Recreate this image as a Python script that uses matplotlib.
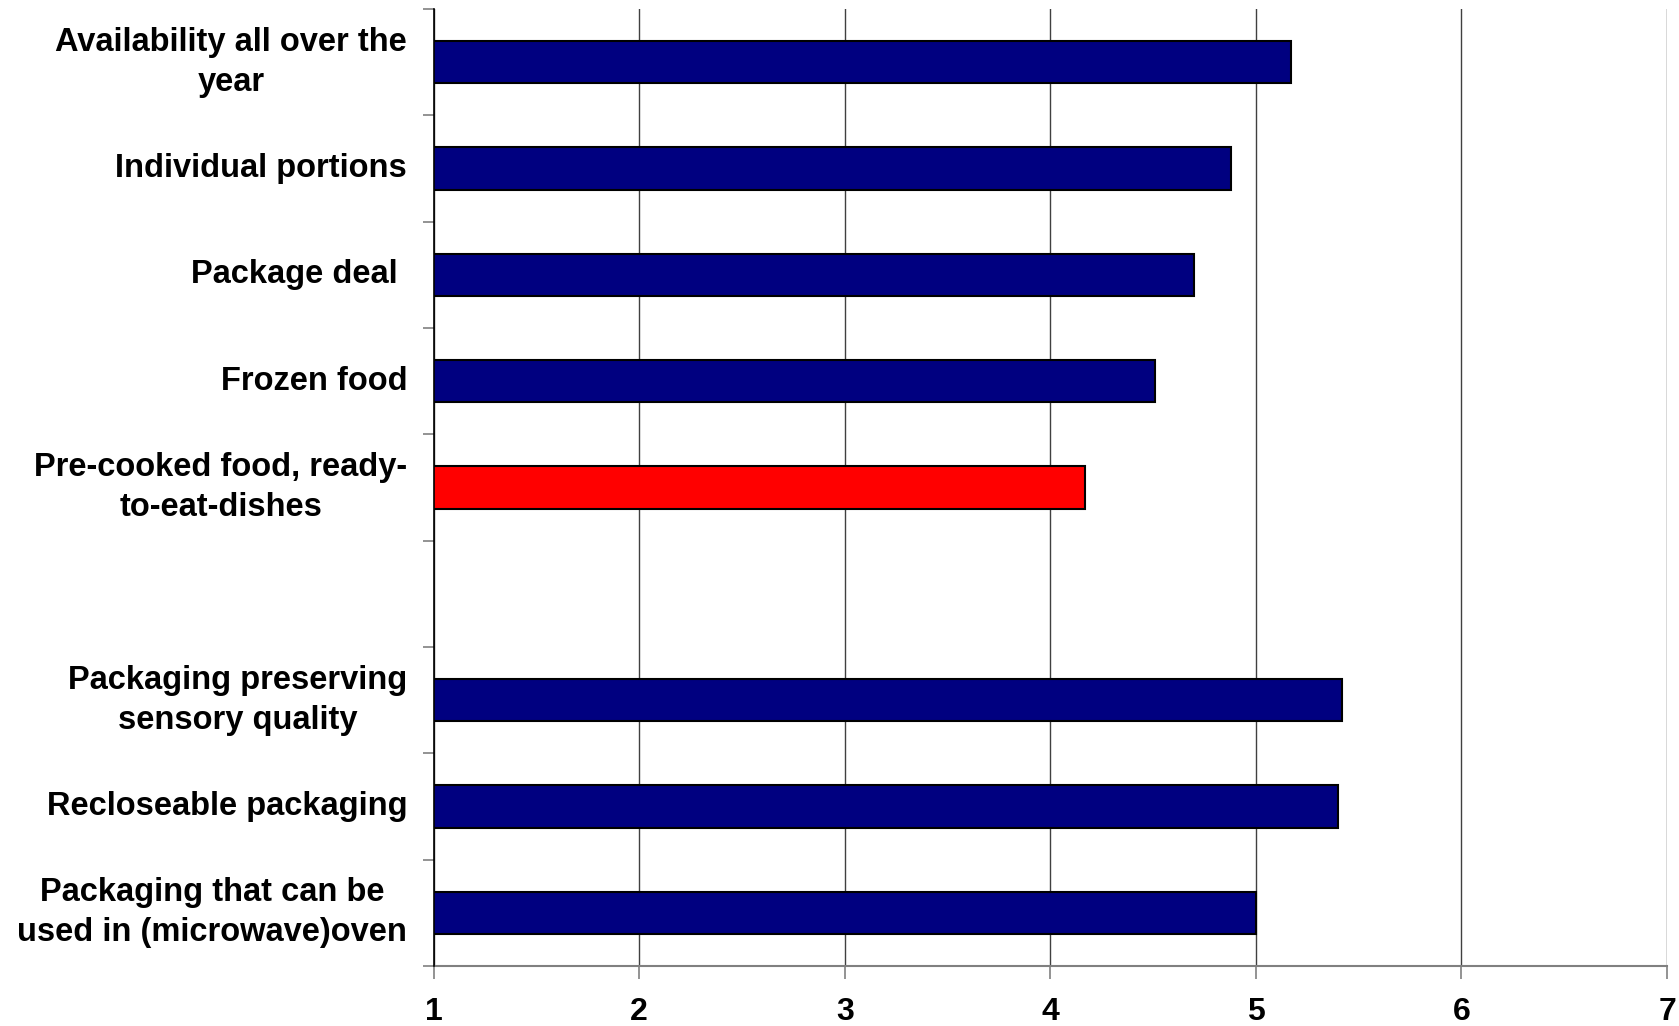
import matplotlib
matplotlib.use("Agg")
import matplotlib.pyplot as plt
import numpy as np

plt.rcParams['font.family'] = ['Liberation Sans', 'DejaVu Sans']

categories = [
    "Availability all over the\nyear",
    "Individual portions",
    "Package deal ",
    "Frozen food",
    "Pre-cooked food, ready-\nto-eat-dishes",
    "",
    "Packaging preserving\nsensory quality",
    "Recloseable packaging",
    "Packaging that can be\nused in (microwave)oven",
]
values = [5.17, 4.88, 4.70, 4.51, 4.17, None, 5.42, 5.40, 5.00]
colors = ["#000080", "#000080", "#000080", "#000080", "#FF0000", None,
          "#000080", "#000080", "#000080"]
xticks = [1, 2, 3, 4, 5, 6, 7]

fig = plt.figure(figsize=(16.79, 10.26), dpi=100)
ax = fig.add_axes([0.2582, 0.0585, 0.9929 - 0.2582, 0.9912 - 0.0585])

pos = np.arange(len(categories))
for p, v, c in zip(pos, values, colors):
    if v is None:
        continue
    ax.barh(p, v, height=0.4, color=c, edgecolor="black", linewidth=1.5, zorder=3)

ax.set_xlim(1, 7)
ax.set_ylim(len(categories) - 0.5, -0.5)
ax.set_xticks(xticks)
ax.set_xticklabels([str(t) for t in xticks], fontsize=23, fontweight="bold")
ax.set_yticks(np.arange(len(categories) + 1) - 0.5, minor=False)
ax.set_yticklabels([])
ax.set_yticks(pos, minor=True)
ax.set_yticklabels(categories, minor=True, fontsize=23.5, fontweight="bold",
                   multialignment="center", linespacing=1.38, va="center")
ax.tick_params(axis="y", which="minor", length=0, pad=19)
ax.tick_params(axis="y", which="major", length=8, color="#808080", width=1.2)
ax.tick_params(axis="x", length=9, color="#808080", width=1.2, pad=13)

ax.grid(axis="x", color="#404040", linewidth=1, zorder=0)
for s in ["top", "right"]:
    ax.spines[s].set_visible(False)
ax.spines["left"].set_color("black")
ax.spines["left"].set_linewidth(1.2)
ax.spines["left"].set_zorder(4)
ax.spines["bottom"].set_color("#808080")
ax.spines["bottom"].set_linewidth(1.5)

fig.savefig("out.png", dpi=100)
